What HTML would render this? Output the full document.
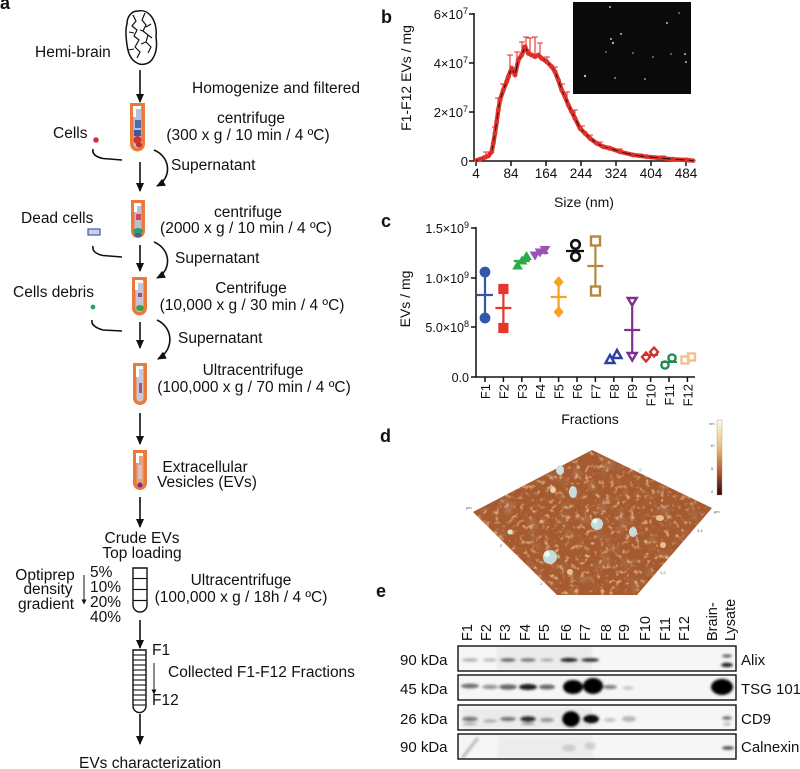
<!DOCTYPE html>
<html><head><meta charset="utf-8"><style>
html,body{margin:0;padding:0;background:#fff;}
svg{display:block;}
text{font-family:"Liberation Sans",Arial,sans-serif;fill:#111;}
</style></head><body>
<svg width="800" height="769" viewBox="0 0 800 769" xmlns="http://www.w3.org/2000/svg">
<defs>
<marker id="ah" markerUnits="userSpaceOnUse" markerWidth="9" markerHeight="8" refX="8" refY="4" orient="auto"><path d="M0,0 L9,4 L0,8 Z" fill="#111"/></marker>
<marker id="ahs" markerUnits="userSpaceOnUse" markerWidth="5" markerHeight="5" refX="4.5" refY="2.5" orient="auto"><path d="M0,0 L5,2.5 L0,5 Z" fill="#111"/></marker>
<filter id="bl" x="-60%" y="-200%" width="220%" height="500%"><feGaussianBlur stdDeviation="1.4"/></filter>
<filter id="speck"><feTurbulence type="fractalNoise" baseFrequency="0.2" numOctaves="2" seed="5"/><feColorMatrix type="matrix" values="0 0 0 0 0.86  0 0 0 0 0.55  0 0 0 0 0.30  3 0 0 0 -1.65"/></filter>
<filter id="dark"><feTurbulence type="fractalNoise" baseFrequency="0.07" numOctaves="2" seed="11"/><feColorMatrix type="matrix" values="0 0 0 0 0.40  0 0 0 0 0.16  0 0 0 0 0.07  0 3.5 0 0 -1.9"/></filter>
<clipPath id="afm"><polygon points="473,512 592,450 712,508 637,595 557,595"/></clipPath>
<linearGradient id="cb" x1="0" y1="0" x2="0" y2="1"><stop offset="0" stop-color="#fffbe6"/><stop offset="0.35" stop-color="#f0c070"/><stop offset="0.7" stop-color="#b0562a"/><stop offset="1" stop-color="#2a0505"/></linearGradient>
</defs>

<!-- ===== Panel a ===== -->
<text x="0" y="9" font-size="18" font-weight="bold">a</text>
<g fill="none" stroke="#111" stroke-width="1.5" stroke-linejoin="round">
<path d="M138,11 C131,11 127,17 127,24 C125,30 126,38 127,45 C128,53 131,60 137,63 C142,66 150,64 153,58 C157,52 157,44 156,37 C157,29 155,21 151,16 C147,11 143,10 138,11 Z"/>
<path d="M133,15 L136,21 L132,26 L137,30 L134,36 L139,40 L135,47 L140,52 L137,58" stroke-width="1.2"/>
<path d="M145,13 L142,20 L146,25 L143,31 L148,35 L146,42 L151,47 L148,53" stroke-width="1.2"/>
<path d="M129,32 L134,33 M151,24 L146,27 M128,50 L134,49 M141,44 L146,42 M152,38 L148,35 M140,30 L143,31" stroke-width="1.1"/>
</g>
<text x="35" y="57" font-size="15.5">Hemi-brain</text>
<text x="192" y="93" font-size="15.5">Homogenize and filtered</text>

<g stroke="#111" stroke-width="1.6" marker-end="url(#ah)">
<line x1="140" y1="70" x2="140" y2="102"/>
<line x1="140" y1="162" x2="140" y2="191"/>
<line x1="140" y1="245" x2="140" y2="271"/>
<line x1="140" y1="322" x2="140" y2="348"/>
<line x1="140" y1="413" x2="140" y2="444"/>
<line x1="140" y1="497" x2="140" y2="527"/>
<line x1="140" y1="620" x2="140" y2="648"/>
<line x1="140" y1="714" x2="140" y2="744"/>
</g>
<g stroke="#111" stroke-width="1" marker-end="url(#ahs)">
<line x1="84" y1="575" x2="84" y2="604"/>
<line x1="154" y1="663" x2="154" y2="694"/>
</g>
<g fill="none" stroke="#111" stroke-width="1.6">
<path d="M122,160 L103,158.5 C96,157 92,154 93,149"/>
<path d="M122,257 L103,255.5 C96,254 92,251 93,246"/>
<path d="M122,331 L103,330 C96,328 91,325 92,320"/>
<path d="M154,150 C171,157 172,178 157,186" marker-end="url(#ah)"/>
<path d="M154,242 C171,249 172,270 157,278" marker-end="url(#ah)"/>
<path d="M157,320 C174,328 174,350 158,359" marker-end="url(#ah)"/>
</g>

<g transform="translate(130,103)">
<path d="M0,0 H15 V41 A7.5,7.5 0 0 1 0,41 Z" fill="#ea7a3c"/>
<path d="M3.5,4 H11.5 V41 A4,4 0 0 1 3.5,41 Z" fill="#b8bfd8"/>
<rect x="3" y="3" width="3" height="11" fill="#fff"/><rect x="3" y="3" width="8" height="3" fill="#fff"/>
<rect x="5" y="17" width="6" height="8" fill="#4c6cb0"/><rect x="4" y="27" width="7" height="6" fill="#3a58a0"/>
<ellipse cx="7.5" cy="37" rx="4" ry="4" fill="#d43030"/><ellipse cx="9" cy="42" rx="3" ry="2.5" fill="#c82a3a"/>
</g>
<g transform="translate(131,200)">
<path d="M0,0 H14 V31 A7,7 0 0 1 0,31 Z" fill="#ea7a3c"/>
<path d="M3.5,4 H10.5 V31 A3.5,3.5 0 0 1 3.5,31 Z" fill="#b9bfd4"/>
<rect x="3" y="3" width="3" height="9" fill="#fff"/><rect x="3" y="3" width="7" height="3" fill="#fff"/>
<rect x="5" y="14" width="5" height="6" fill="#d24a5a"/>
<ellipse cx="7" cy="31" rx="5" ry="3" fill="#2aa06a"/><ellipse cx="7" cy="35" rx="4" ry="2" fill="#3a60a8"/>
</g>
<g transform="translate(132,277)">
<path d="M0,0 H15 V31 A7.5,7.5 0 0 1 0,31 Z" fill="#ea7a3c"/>
<path d="M3.5,4 H11.5 V31 A4,4 0 0 1 3.5,31 Z" fill="#c2c6d8"/>
<rect x="3" y="3" width="3" height="10" fill="#fff"/><rect x="3" y="3" width="8" height="3" fill="#fff"/>
<rect x="6" y="16" width="4" height="4" fill="#b04868"/>
<ellipse cx="8" cy="31" rx="4" ry="3" fill="#3aa04a"/>
</g>
<g transform="translate(133,363)">
<path d="M0,0 H14 V35 A7,7 0 0 1 0,35 Z" fill="#ea7a3c"/>
<path d="M3.5,4 H10.5 V35 A3.5,3.5 0 0 1 3.5,35 Z" fill="#c5c8da"/>
<rect x="3" y="3" width="3" height="11" fill="#fff"/><rect x="3" y="3" width="7" height="3" fill="#fff"/>
<rect x="6" y="20" width="3" height="10" fill="#a05878"/>
</g>
<g transform="translate(133,450)">
<path d="M0,0 H14 V33 A7,7 0 0 1 0,33 Z" fill="#ea7a3c"/>
<path d="M3.5,4 H10.5 V33 A3.5,3.5 0 0 1 3.5,33 Z" fill="#e8a080"/>
<rect x="3" y="3" width="3" height="10" fill="#fff"/><rect x="3" y="3" width="7" height="3" fill="#fff"/>
<rect x="5" y="15" width="4" height="14" fill="#d9c0c0"/>
<circle cx="7" cy="35" r="2.5" fill="#7a2a8a"/>
</g>
<circle cx="96" cy="140" r="2.8" fill="#d83040"/>
<rect x="88" y="229" width="12" height="6" fill="#c8d0ec" stroke="#4a5aa0" stroke-width="1.2"/>
<circle cx="93" cy="307" r="2.4" fill="#20a860"/>

<path d="M133,568 H147 V605 A7,7 0 0 1 133,605 Z" fill="#fff" stroke="#111" stroke-width="1.4"/>
<g stroke="#111" stroke-width="1.2"><line x1="133" y1="578.5" x2="147" y2="578.5"/><line x1="133" y1="589.5" x2="147" y2="589.5"/><line x1="133" y1="600.5" x2="147" y2="600.5"/></g>
<path d="M133,650 H146 V706 A6.5,6.5 0 0 1 133,706 Z" fill="#fff" stroke="#111" stroke-width="1.4"/>
<g stroke="#111" stroke-width="1.1">
<line x1="133" y1="655" x2="146" y2="655"/><line x1="133" y1="660" x2="146" y2="660"/><line x1="133" y1="665" x2="146" y2="665"/><line x1="133" y1="670" x2="146" y2="670"/><line x1="133" y1="675" x2="146" y2="675"/><line x1="133" y1="680" x2="146" y2="680"/><line x1="133" y1="685" x2="146" y2="685"/><line x1="133" y1="690" x2="146" y2="690"/><line x1="133" y1="695" x2="146" y2="695"/><line x1="133" y1="700" x2="146" y2="700"/><line x1="133" y1="705" x2="146" y2="705"/>
</g>

<g font-size="15.5">
<text x="251" y="123" text-anchor="middle">centrifuge</text>
<text x="248" y="140" text-anchor="middle">(300 x g / 10 min / 4 ºC)</text>
<text x="53" y="138">Cells</text>
<text x="171" y="170">Supernatant</text>
<text x="248" y="217" text-anchor="middle">centrifuge</text>
<text x="246" y="233" text-anchor="middle">(2000 x g / 10 min / 4 ºC)</text>
<text x="21" y="223">Dead cells</text>
<text x="175" y="263">Supernatant</text>
<text x="13" y="297">Cells debris</text>
<text x="251" y="293" text-anchor="middle">Centrifuge</text>
<text x="252" y="310" text-anchor="middle">(10,000 x g / 30 min / 4 ºC)</text>
<text x="178" y="343">Supernatant</text>
<text x="253" y="375" text-anchor="middle">Ultracentrifuge</text>
<text x="254" y="392" text-anchor="middle">(100,000 x g / 70 min / 4 ºC)</text>
<text x="205" y="472" text-anchor="middle">Extracellular</text>
<text x="207" y="487" text-anchor="middle">Vesicles (EVs)</text>
<text x="142" y="543" text-anchor="middle">Crude EVs</text>
<text x="142" y="558" text-anchor="middle">Top loading</text>
<text x="45" y="580" text-anchor="middle">Optiprep</text>
<text x="48" y="594" text-anchor="middle">density</text>
<text x="46" y="609" text-anchor="middle">gradient</text>
<text x="90" y="577">5%</text>
<text x="90" y="592">10%</text>
<text x="90" y="607">20%</text>
<text x="90" y="622">40%</text>
<text x="241" y="585" text-anchor="middle">Ultracentrifuge</text>
<text x="241" y="602" text-anchor="middle">(100,000 x g / 18h / 4 ºC)</text>
<text x="152" y="655">F1</text>
<text x="152" y="705">F12</text>
<text x="168" y="677">Collected F1-F12 Fractions</text>
<text x="79" y="768">EVs characterization</text>
</g>

<!-- ===== Panel b ===== -->
<text x="381" y="23" font-size="18" font-weight="bold">b</text>
<rect x="573" y="2" width="118" height="92" fill="#0a0a0a"/>
<g fill="#bbb">
<circle cx="610" cy="7" r="1"/><circle cx="621" cy="34" r="1"/><circle cx="611" cy="39" r="1"/><circle cx="613" cy="43" r="1.1"/><circle cx="585" cy="76" r="1.2"/><circle cx="615" cy="78" r="0.9"/><circle cx="645" cy="79" r="0.9"/><circle cx="667" cy="23" r="1"/><circle cx="679" cy="13" r="0.8"/><circle cx="685" cy="54" r="1"/><circle cx="686" cy="62" r="1"/><circle cx="671" cy="54" r="0.8"/><circle cx="653" cy="57" r="0.8"/><circle cx="633" cy="53" r="0.8"/><circle cx="606" cy="52" r="0.7"/>
</g>
<g stroke="#111" stroke-width="1.5" fill="none">
<line x1="474" y1="13" x2="474" y2="161.5"/>
<line x1="473.5" y1="161" x2="695" y2="161"/>
<line x1="469" y1="14" x2="474" y2="14"/><line x1="469" y1="63" x2="474" y2="63"/><line x1="469" y1="112" x2="474" y2="112"/><line x1="469" y1="161" x2="474" y2="161"/>
<line x1="476" y1="161" x2="476" y2="166"/><line x1="511" y1="161" x2="511" y2="166"/><line x1="546" y1="161" x2="546" y2="166"/><line x1="581" y1="161" x2="581" y2="166"/><line x1="616" y1="161" x2="616" y2="166"/><line x1="651" y1="161" x2="651" y2="166"/><line x1="686" y1="161" x2="686" y2="166"/>
</g>
<g font-size="13" text-anchor="end">
<text x="468" y="19">6×10<tspan font-size="9" dy="-5">7</tspan></text>
<text x="468" y="68">4×10<tspan font-size="9" dy="-5">7</tspan></text>
<text x="468" y="117">2×10<tspan font-size="9" dy="-5">7</tspan></text>
<text x="468" y="166">0</text>
</g>
<g font-size="13.5" text-anchor="middle">
<text x="476" y="178">4</text><text x="511" y="178">84</text><text x="546" y="178">164</text><text x="581" y="178">244</text><text x="616" y="178">324</text><text x="651" y="178">404</text><text x="686" y="178">484</text>
</g>
<text x="584" y="207" font-size="14" text-anchor="middle">Size (nm)</text>
<text transform="translate(411,78) rotate(-90)" font-size="14" text-anchor="middle">F1-F12 EVs / mg</text>
<g stroke="#e0302a" stroke-width="1.1" fill="none">
<path d="M486,156 V152 M483,152 H489"/>
<path d="M495,133 V127 M492,127 H498"/>
<path d="M498,110 V98 M495,98 H501"/>
<path d="M503,90 V84 M500,84 H506"/>
<path d="M510,72 V55 M507,55 H513"/>
<path d="M517,64 V52 M514,52 H520"/>
<path d="M522,55 V42 M519,42 H525"/>
<path d="M526,47 V37 M523,37 H529"/>
<path d="M530,54 V38 M527,38 H533"/>
<path d="M535,57 V37 M532,37 H538"/>
<path d="M540,57 V43 M537,43 H543"/>
<path d="M547,62 V57 M544,57 H550"/>
<path d="M555,72 V67 M552,67 H558"/>
<path d="M562,90 V84 M559,84 H565"/>
<path d="M567,100 V92 M564,92 H570"/>
<path d="M575,118 V110 M572,110 H578"/>
<path d="M582,130 V126 M579,126 H585"/>
<path d="M590,138 V135 M587,135 H593"/>
<path d="M600,145 V142 M597,142 H603"/>
<path d="M620,152 V149 M617,149 H623"/>
<path d="M640,156 V154 M637,154 H643"/>
<path d="M663,158 V156 M660,156 H666"/>
</g>
<polyline fill="none" stroke="#e3332c" stroke-width="4.4" stroke-linejoin="round" stroke-linecap="round" points="476,160.5 480,159.3 485,157.3 488.3,156 491.7,151.7 493.3,143.3 495,133.3 496.7,121.7 498.3,110 500,100 503.3,90 506.7,81.7 508.3,76.7 511.7,68.3 515,75 518.3,60 521.7,55 525,46.7 528.3,53.3 531.7,55 535,56.7 538.3,55 541.7,58.3 546.7,61.7 551.7,66.7 555,71.7 558.3,80 561.7,90 565,96.7 568.3,105 571.7,111.7 575,118.3 580,128.3 585,133.3 590,138.3 596.7,143.3 603.3,146.7 610,148.3 620,151.7 633.3,155 646.7,156.7 660,158 673.3,159.3 686.7,160 693.3,160.7"/>
<polyline fill="none" stroke="#111" stroke-width="1" stroke-linejoin="round" points="476,160.5 480,159.3 485,157.3 488.3,156 491.7,151.7 493.3,143.3 495,133.3 496.7,121.7 498.3,110 500,100 503.3,90 506.7,81.7 508.3,76.7 511.7,68.3 515,75 518.3,60 521.7,55 525,46.7 528.3,53.3 531.7,55 535,56.7 538.3,55 541.7,58.3 546.7,61.7 551.7,66.7 555,71.7 558.3,80 561.7,90 565,96.7 568.3,105 571.7,111.7 575,118.3 580,128.3 585,133.3 590,138.3 596.7,143.3 603.3,146.7 610,148.3 620,151.7 633.3,155 646.7,156.7 660,158 673.3,159.3 686.7,160 693.3,160.7"/>
<g fill="#e3332c" opacity="0.9">
<circle cx="480" cy="159.3" r="2.5"/><circle cx="485" cy="157.3" r="2.5"/><circle cx="488.3" cy="156" r="2.5"/><circle cx="491.7" cy="151.7" r="2.5"/><circle cx="493.3" cy="143.3" r="2.5"/><circle cx="495" cy="133.3" r="2.5"/><circle cx="496.7" cy="121.7" r="2.5"/><circle cx="498.3" cy="110" r="2.5"/><circle cx="500" cy="100" r="2.5"/><circle cx="503.3" cy="90" r="2.5"/><circle cx="506.7" cy="81.7" r="2.5"/><circle cx="508.3" cy="76.7" r="2.5"/><circle cx="511.7" cy="68.3" r="2.5"/><circle cx="515" cy="75" r="2.5"/><circle cx="518.3" cy="60" r="2.5"/><circle cx="521.7" cy="55" r="2.5"/><circle cx="525" cy="46.7" r="2.5"/><circle cx="528.3" cy="53.3" r="2.5"/><circle cx="531.7" cy="55" r="2.5"/><circle cx="535" cy="56.7" r="2.5"/><circle cx="538.3" cy="55" r="2.5"/><circle cx="541.7" cy="58.3" r="2.5"/><circle cx="546.7" cy="61.7" r="2.5"/><circle cx="551.7" cy="66.7" r="2.5"/><circle cx="555" cy="71.7" r="2.5"/><circle cx="558.3" cy="80" r="2.5"/><circle cx="561.7" cy="90" r="2.5"/><circle cx="565" cy="96.7" r="2.5"/><circle cx="568.3" cy="105" r="2.5"/><circle cx="571.7" cy="111.7" r="2.5"/><circle cx="575" cy="118.3" r="2.5"/><circle cx="580" cy="128.3" r="2.5"/><circle cx="585" cy="133.3" r="2.5"/><circle cx="590" cy="138.3" r="2.5"/><circle cx="596.7" cy="143.3" r="2.5"/><circle cx="603.3" cy="146.7" r="2.5"/><circle cx="610" cy="148.3" r="2.5"/><circle cx="620" cy="151.7" r="2.5"/><circle cx="633.3" cy="155" r="2.5"/><circle cx="646.7" cy="156.7" r="2.5"/><circle cx="660" cy="158" r="2.5"/><circle cx="673.3" cy="159.3" r="2.5"/><circle cx="686.7" cy="160" r="2.5"/>
</g>

<!-- ===== Panel c ===== -->
<text x="381" y="227" font-size="18" font-weight="bold">c</text>
<g stroke="#111" stroke-width="1.5" fill="none">
<line x1="476" y1="227" x2="476" y2="377.5"/>
<line x1="475.5" y1="377" x2="695" y2="377"/>
<line x1="471" y1="228" x2="476" y2="228"/><line x1="471" y1="278" x2="476" y2="278"/><line x1="471" y1="327" x2="476" y2="327"/><line x1="471" y1="377" x2="476" y2="377"/>
<line x1="485" y1="377" x2="485" y2="382"/><line x1="503.4" y1="377" x2="503.4" y2="382"/><line x1="521.8" y1="377" x2="521.8" y2="382"/><line x1="540.2" y1="377" x2="540.2" y2="382"/><line x1="558.6" y1="377" x2="558.6" y2="382"/><line x1="577" y1="377" x2="577" y2="382"/><line x1="595.4" y1="377" x2="595.4" y2="382"/><line x1="613.8" y1="377" x2="613.8" y2="382"/><line x1="632.2" y1="377" x2="632.2" y2="382"/><line x1="650.6" y1="377" x2="650.6" y2="382"/><line x1="669" y1="377" x2="669" y2="382"/><line x1="687.4" y1="377" x2="687.4" y2="382"/>
</g>
<g font-size="12.5" text-anchor="end">
<text x="469" y="233">1.5×10<tspan font-size="9" dy="-5">9</tspan></text>
<text x="469" y="283">1.0×10<tspan font-size="9" dy="-5">9</tspan></text>
<text x="469" y="332">5.0×10<tspan font-size="9" dy="-5">8</tspan></text>
<text x="469" y="382">0.0</text>
</g>
<g font-size="13" text-anchor="end">
<text transform="translate(490,384) rotate(-90)">F1</text>
<text transform="translate(508.4,384) rotate(-90)">F2</text>
<text transform="translate(526.8,384) rotate(-90)">F3</text>
<text transform="translate(545.2,384) rotate(-90)">F4</text>
<text transform="translate(563.6,384) rotate(-90)">F5</text>
<text transform="translate(582,384) rotate(-90)">F6</text>
<text transform="translate(600.4,384) rotate(-90)">F7</text>
<text transform="translate(618.8,384) rotate(-90)">F8</text>
<text transform="translate(637.2,384) rotate(-90)">F9</text>
<text transform="translate(655.6,384) rotate(-90)">F10</text>
<text transform="translate(674,384) rotate(-90)">F11</text>
<text transform="translate(692.4,384) rotate(-90)">F12</text>
</g>
<text x="590" y="424" font-size="14" text-anchor="middle">Fractions</text>
<text transform="translate(410,299) rotate(-90)" font-size="14" text-anchor="middle">EVs / mg</text>
<g stroke-width="2.2" stroke-linecap="butt">
<g stroke="#2f58a8" fill="#2f58a8"><line x1="485" y1="272" x2="485" y2="318"/><line x1="477" y1="295" x2="493" y2="295"/><circle cx="485" cy="272" r="4.3"/><circle cx="485" cy="318" r="4.3"/></g>
<g stroke="#e8352b" fill="#e8352b"><line x1="503.4" y1="289" x2="503.4" y2="328"/><line x1="495.4" y1="308" x2="511.4" y2="308"/><rect x="499.4" y="285" width="8" height="8"/><rect x="499.4" y="324" width="8" height="8"/></g>
<g stroke="#2cab4a" fill="#2cab4a"><line x1="513.8" y1="261" x2="529.8" y2="261"/><polygon points="517.5,261.5 522,269 513,269" stroke-width="1"/><polygon points="522,256.5 526.5,264 517.5,264" stroke-width="1"/><polygon points="526.5,252 531,259.5 522,259.5" stroke-width="1"/></g>
<g stroke="#9a52b5" fill="#9a52b5"><line x1="532.2" y1="253" x2="548.2" y2="253"/><polygon points="530.5,252 539.5,252 535,259.5" stroke-width="1"/><polygon points="535.5,249 544.5,249 540,256.5" stroke-width="1"/><polygon points="540.5,246.5 549.5,246.5 545,254" stroke-width="1"/></g>
<g stroke="#f4a21f" fill="#f4a21f"><line x1="558.6" y1="282" x2="558.6" y2="312"/><line x1="550.6" y1="297" x2="566.6" y2="297"/><polygon points="558.6,277 563,282 558.6,287 554.2,282" stroke-width="1"/><polygon points="558.6,307 563,312 558.6,317 554.2,312" stroke-width="1"/></g>
<g stroke="#111" fill="none"><line x1="566" y1="251" x2="584" y2="251"/><circle cx="575.5" cy="244.5" r="4.3" stroke-width="2.6"/><circle cx="575.5" cy="256.5" r="4.3" stroke-width="2.6"/></g>
<g stroke="#b5883e" fill="none"><line x1="595.4" y1="245" x2="595.4" y2="287"/><line x1="587.4" y1="266" x2="603.4" y2="266"/><rect x="591" y="236.5" width="9" height="9" stroke-width="2.4"/><rect x="591" y="286.5" width="9" height="9" stroke-width="2.4"/></g>
<g stroke="#2b3fa5" fill="none" stroke-width="2.4"><polygon points="610,355 614.5,363 605.5,363"/><polygon points="617,350 621.5,358 612.5,358"/></g>
<g stroke="#7e2f90" fill="none"><line x1="632.2" y1="304" x2="632.2" y2="352"/><line x1="624.2" y1="330" x2="640.2" y2="330"/><polygon points="627.7,298 636.7,298 632.2,305.5" stroke-width="2.4"/><polygon points="627.7,353 636.7,353 632.2,360.5" stroke-width="2.4"/></g>
<g stroke="#d2312c" fill="none" stroke-width="2.4"><polygon points="646,352.5 650,357 646,361.5 642,357"/><polygon points="654,347.5 658,352 654,356.5 650,352"/><line x1="643" y1="355" x2="658" y2="355" stroke-width="2"/></g>
<g stroke="#1f8b4d" fill="none" stroke-width="2.4"><circle cx="665" cy="365" r="3.6"/><circle cx="672" cy="358" r="3.6"/><line x1="661" y1="362" x2="677" y2="362" stroke-width="2"/></g>
<g stroke="#f5c08e" fill="none" stroke-width="2.4"><rect x="681.5" y="356.5" width="7" height="7"/><rect x="688" y="353.5" width="7" height="7"/></g>
</g>

<!-- ===== Panel d ===== -->
<text x="380" y="442" font-size="18" font-weight="bold">d</text>
<g clip-path="url(#afm)">
<rect x="470" y="447" width="246" height="152" fill="#a65a30"/>
<rect x="470" y="447" width="246" height="152" filter="url(#dark)"/>
<rect x="470" y="447" width="246" height="152" filter="url(#speck)"/>
</g>
<g>
<ellipse cx="560" cy="470" rx="4" ry="5" fill="#cfe2df"/><ellipse cx="573" cy="492" rx="4" ry="6" fill="#c8dedc"/><ellipse cx="553" cy="490" rx="3" ry="3" fill="#e8d0b0"/>
<ellipse cx="597" cy="524" rx="6" ry="6" fill="#c4dcda"/><ellipse cx="595" cy="521" rx="2.5" ry="2.5" fill="#f2f6f4"/>
<ellipse cx="633" cy="532" rx="4" ry="5" fill="#c8dedc"/><ellipse cx="550" cy="557" rx="7" ry="7" fill="#c4dcd8"/><ellipse cx="547" cy="554" rx="3" ry="3" fill="#f0f4f2"/>
<ellipse cx="510" cy="532" rx="2.5" ry="2.5" fill="#d8e4e0"/><ellipse cx="660" cy="518" rx="4" ry="3" fill="#e8c090"/><ellipse cx="663" cy="545" rx="3" ry="3" fill="#e8c090"/><ellipse cx="570" cy="572" rx="3" ry="3" fill="#e8c090"/><ellipse cx="640" cy="470" rx="2" ry="2" fill="#e0e8e0"/>
</g>
<rect x="717" y="420" width="5" height="75" fill="url(#cb)" stroke="#999" stroke-width="0.4"/>
<g font-size="4"><text x="709" y="425" style="fill:#555">nm</text><text x="710" y="447" style="fill:#555">10</text><text x="711" y="470" style="fill:#555">5</text><text x="711" y="493" style="fill:#555">0</text>
<text x="466" y="509" style="fill:#555">μm</text><text x="500" y="547" style="fill:#555">2</text><text x="540" y="585" style="fill:#555">1</text><text x="697" y="532" style="fill:#555">3.4</text><text x="660" y="574" style="fill:#555">1.2</text><text x="714" y="513" style="fill:#555">μm</text></g>

<!-- ===== Panel e ===== -->
<text x="376" y="597" font-size="18" font-weight="bold">e</text>
<g font-size="14.5">
<text transform="translate(472,641) rotate(-90)">F1</text>
<text transform="translate(491,641) rotate(-90)">F2</text>
<text transform="translate(510,641) rotate(-90)">F3</text>
<text transform="translate(530,641) rotate(-90)">F4</text>
<text transform="translate(549,641) rotate(-90)">F5</text>
<text transform="translate(571,641) rotate(-90)">F6</text>
<text transform="translate(590,641) rotate(-90)">F7</text>
<text transform="translate(611,641) rotate(-90)">F8</text>
<text transform="translate(629,641) rotate(-90)">F9</text>
<text transform="translate(650,641) rotate(-90)">F10</text>
<text transform="translate(670,641) rotate(-90)">F11</text>
<text transform="translate(689,641) rotate(-90)">F12</text>
<text transform="translate(717,641) rotate(-90)">Brain-</text>
<text transform="translate(735,641) rotate(-90)">Lysate</text>
</g>
<g font-size="15">
<text x="400" y="665">90 kDa</text>
<text x="400" y="694">45 kDa</text>
<text x="400" y="724">26 kDa</text>
<text x="400" y="752">90 kDa</text>
<text x="741" y="665">Alix</text>
<text x="741" y="694">TSG 101</text>
<text x="741" y="724">CD9</text>
<text x="741" y="752">Calnexin</text>
</g>
<g fill="#f6f6f6">
<rect x="458" y="646" width="278" height="25"/>
<rect x="458" y="675" width="278" height="25"/>
<rect x="458" y="705" width="278" height="25"/>
<rect x="458" y="734" width="278" height="25"/>
</g>
<g filter="url(#bl)">
<rect x="497" y="647" width="95" height="23" fill="#888" opacity="0.1"/>
<ellipse cx="470" cy="660" rx="8" ry="1.6" fill="#000" opacity="0.3"/>
<ellipse cx="490" cy="660" rx="7" ry="1.6" fill="#000" opacity="0.25"/>
<ellipse cx="508" cy="660" rx="8" ry="2" fill="#000" opacity="0.55"/>
<ellipse cx="528" cy="660" rx="8" ry="2" fill="#000" opacity="0.5"/>
<ellipse cx="547" cy="660" rx="7" ry="1.6" fill="#000" opacity="0.3"/>
<ellipse cx="569" cy="660" rx="9" ry="2.2" fill="#000" opacity="0.85"/>
<ellipse cx="590" cy="660" rx="9" ry="2" fill="#000" opacity="0.8"/>
<ellipse cx="727" cy="656" rx="5" ry="1.6" fill="#000" opacity="0.6"/>
<ellipse cx="727" cy="665" rx="6" ry="2.2" fill="#000" opacity="0.85"/>
</g>
<g filter="url(#bl)">
<ellipse cx="470" cy="686" rx="9" ry="2.4" fill="#000" opacity="0.55"/>
<ellipse cx="490" cy="687" rx="8" ry="2.2" fill="#000" opacity="0.4"/>
<ellipse cx="508" cy="687" rx="9" ry="2.6" fill="#000" opacity="0.6"/>
<ellipse cx="528" cy="687" rx="9" ry="3" fill="#000" opacity="0.9"/>
<ellipse cx="547" cy="687" rx="8" ry="2.4" fill="#000" opacity="0.6"/>
<ellipse cx="573" cy="687" rx="10" ry="7" fill="#000" opacity="1"/>
<ellipse cx="593" cy="686" rx="10" ry="8" fill="#000" opacity="1"/>
<ellipse cx="610" cy="687" rx="7" ry="2" fill="#000" opacity="0.5"/>
<ellipse cx="628" cy="688" rx="6" ry="1.6" fill="#000" opacity="0.2"/>
<ellipse cx="722" cy="687" rx="11" ry="8" fill="#000" opacity="1"/>
</g>
<g filter="url(#bl)">
<rect x="462" y="708" width="130" height="20" fill="#888" opacity="0.1"/>
<ellipse cx="470" cy="719" rx="8" ry="2.5" fill="#000" opacity="0.5"/>
<ellipse cx="470" cy="724" rx="7" ry="1.5" fill="#000" opacity="0.25"/>
<ellipse cx="490" cy="721" rx="7" ry="2" fill="#000" opacity="0.25"/>
<ellipse cx="508" cy="719" rx="8" ry="2.4" fill="#000" opacity="0.5"/>
<ellipse cx="528" cy="719" rx="8" ry="3" fill="#000" opacity="0.8"/>
<ellipse cx="528" cy="724" rx="7" ry="1.5" fill="#000" opacity="0.3"/>
<ellipse cx="547" cy="720" rx="7" ry="2.5" fill="#000" opacity="0.35"/>
<ellipse cx="571" cy="719" rx="9" ry="8" fill="#000" opacity="1"/>
<ellipse cx="591" cy="719" rx="8" ry="4.5" fill="#000" opacity="0.95"/>
<ellipse cx="610" cy="720" rx="6" ry="2" fill="#000" opacity="0.2"/>
<ellipse cx="629" cy="719" rx="7" ry="3" fill="#000" opacity="0.25"/>
<ellipse cx="727" cy="718" rx="5" ry="1.8" fill="#000" opacity="0.55"/>
<ellipse cx="727" cy="724" rx="4" ry="2" fill="#000" opacity="0.2"/>
</g>
<g filter="url(#bl)">
<rect x="498" y="736" width="95" height="22" fill="#888" opacity="0.08"/>
<path d="M462,758 L478,738" stroke="#000" stroke-width="3" opacity="0.25"/>
<ellipse cx="569" cy="748" rx="7" ry="4" fill="#000" opacity="0.12"/>
<ellipse cx="590" cy="746" rx="6" ry="4" fill="#000" opacity="0.12"/>
<ellipse cx="728" cy="748" rx="6" ry="1.8" fill="#000" opacity="0.7"/>
</g>
<g fill="none" stroke="#111" stroke-width="1.4">
<rect x="458" y="646" width="278" height="25"/>
<rect x="458" y="675" width="278" height="25"/>
<rect x="458" y="705" width="278" height="25"/>
<rect x="458" y="734" width="278" height="25"/>
</g>
</svg>
</body></html>
